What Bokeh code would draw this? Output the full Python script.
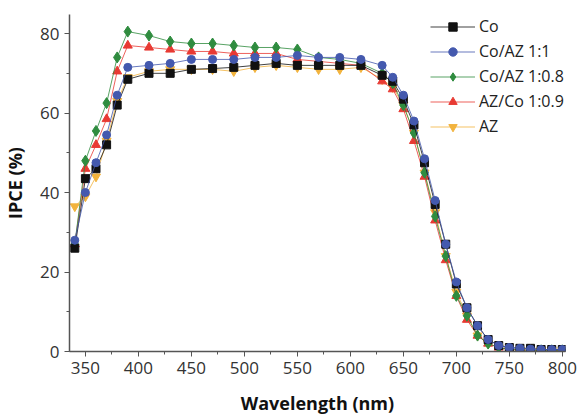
from bokeh.plotting import figure
from bokeh.models import Legend, LegendItem, SingleIntervalTicker, Range1d
from bokeh.embed import file_html
from bokeh.resources import INLINE

wavelength = [340, 350, 360, 370, 380, 390, 410, 430, 450, 470, 490, 510, 530, 550, 570, 590, 610,
              630, 640, 650, 660, 670, 680, 690, 700, 710, 720, 730, 740, 750, 760, 770, 780, 790, 800]

co = [26, 43.5, 46, 52, 62, 68.5, 70, 70, 71, 71.2, 71.5, 72, 72.5, 72, 72, 72, 72,
      69.5, 68, 63.5, 57, 47.5, 37, 27, 17, 11, 6.5, 3, 1.5, 1, 0.8, 0.8, 0.5, 0.5, 0.5]
co_az_11 = [28, 40, 47.5, 54.5, 64.5, 71.5, 72, 72.5, 73.5, 73.5, 73.5, 74, 74, 74.5, 74, 74, 73.5,
            72, 69, 64.5, 58, 48.5, 38, 27, 17.5, 11, 6.5, 3, 1.5, 1, 0.8, 0.6, 0.5, 0.5, 0.5]
co_az_108 = [27, 48, 55.5, 62.5, 74, 80.5, 79.5, 78, 77.5, 77.5, 77, 76.5, 76.5, 76, 74, 73.5, 72.5,
             70, 67.5, 62, 55, 45, 34, 24, 14, 9, 4, 2, 1, 0.5, 0.4, 0.3, 0.3, 0.3, 0.3]
az_co_109 = [27, 46, 52, 58.5, 70.5, 77, 76.5, 76, 75.5, 75.5, 75, 75, 75, 73.5, 73, 72.5, 72,
             68, 66, 61, 53, 44, 33, 23, 14, 8, 4, 2, 1, 0.5, 0.4, 0.3, 0.3, 0.3, 0.3]
az = [36.5, 39, 44, 53, 63, 69, 70.5, 71, 71, 71, 70.5, 71.5, 72, 71.5, 71, 71, 71.5,
      68.5, 66.5, 62, 55, 45, 35, 24, 15, 9, 4, 2, 1, 0.5, 0.4, 0.3, 0.3, 0.3, 0.3]

names = ["Co", "Co/AZ 1:1", "Co/AZ 1:0.8", "AZ/Co 1:0.9", "AZ"]
FONT = "Open Sans"

p = figure(width=577, height=418, output_backend="svg", toolbar_location=None,
           x_range=Range1d(335, 803), y_range=Range1d(0, 84.8),
           min_border_left=69, min_border_right=12, min_border_top=14, min_border_bottom=67)
p.outline_line_color = None
p.grid.visible = False
p.background_fill_color = "white"
p.border_fill_color = "white"

p.xaxis.ticker = SingleIntervalTicker(interval=50, num_minor_ticks=2)
p.yaxis.ticker = SingleIntervalTicker(interval=20, num_minor_ticks=2)
for ax in (p.xaxis[0], p.yaxis[0]):
    ax.axis_line_color = "#555555"
    ax.axis_line_width = 1.5
    ax.major_tick_line_color = "#555555"
    ax.minor_tick_line_color = "#555555"
    ax.major_tick_in = 0
    ax.major_tick_out = 5
    ax.minor_tick_in = 0
    ax.minor_tick_out = 3
    ax.major_label_text_font = FONT
    ax.major_label_text_font_size = "17px"
    ax.major_label_text_color = "#333333"
    ax.axis_label_text_font = FONT
    ax.axis_label_text_font_size = "18px"
    ax.axis_label_text_font_style = "bold"
    ax.axis_label_text_color = "#111111"
p.xaxis.axis_label = "Wavelength (nm)"
p.yaxis.axis_label = "IPCE (%)"
p.xaxis.axis_label_standoff = 14
p.yaxis.axis_label_standoff = 10

specs = [
    (az, "#F2B33D", "inverted_triangle", 9),
    (az_co_109, "#E83A33", "triangle", 9),
    (co_az_108, "#2F8C3F", "diamond", 11),
    (co, "#111111", "square", 8),
    (co_az_11, "#4459AE", "circle", 8),
]
rend = {}
for data, color, marker, size in specs:
    l = p.line(wavelength, data, line_color=color, line_width=1, line_alpha=0.8)
    s = p.scatter(wavelength, data, marker=marker, size=size, fill_color=color, line_color=color)
    rend[id(data)] = [l, s]

order = [co, co_az_11, co_az_108, az_co_109, az]
items = [LegendItem(label=n, renderers=rend[id(d)]) for n, d in zip(names, order)]
legend = Legend(items=items, location=(361, 214), padding=0, margin=0, spacing=3,
                glyph_width=45, glyph_height=21, label_height=21, label_standoff=4,
                label_text_font=FONT, label_text_font_size="16px", label_text_color="#222222",
                border_line_color=None, background_fill_alpha=0)
p.add_layout(legend)

open("out.html", "w").write(file_html(p, INLINE))
